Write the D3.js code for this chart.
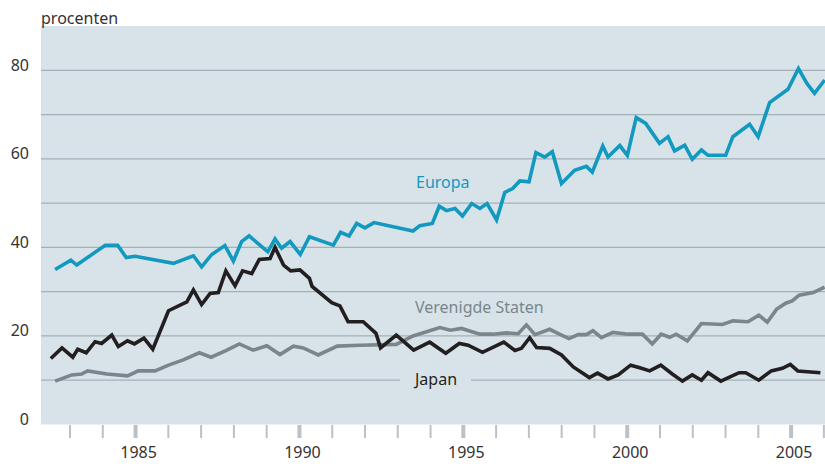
<!DOCTYPE html>
<html>
<head>
<meta charset="utf-8">
<script src="https://cdn.jsdelivr.net/npm/d3@7"></script>
<style>
  body { margin: 0; background: #fff; }
  text { font-family: "Noto Sans", sans-serif; }
</style>
</head>
<body>
<script>
var europa = [
  [1982.56, 35.0], [1983.04, 37.1], [1983.22, 36.0], [1984.09, 40.5], [1984.47, 40.5],
  [1984.73, 37.7], [1985.0, 38.0], [1986.17, 36.4], [1986.78, 38.1], [1987.03, 35.6],
  [1987.34, 38.4], [1987.74, 40.4], [1988.0, 36.9], [1988.25, 41.3], [1988.48, 42.6],
  [1989.05, 39.0], [1989.27, 41.9], [1989.47, 39.8], [1989.73, 41.3], [1990.04, 38.4],
  [1990.32, 42.4], [1991.05, 40.5], [1991.27, 43.4], [1991.53, 42.6], [1991.76, 45.4],
  [1992.01, 44.4], [1992.29, 45.6], [1993.48, 43.7], [1993.69, 44.9], [1994.07, 45.4],
  [1994.28, 49.3], [1994.5, 48.3], [1994.76, 48.8], [1994.99, 47.1], [1995.27, 49.9],
  [1995.52, 48.8], [1995.74, 49.9], [1996.03, 46.2], [1996.28, 52.4], [1996.52, 53.3],
  [1996.74, 55.0], [1997.02, 54.8], [1997.23, 61.4], [1997.5, 60.4], [1997.73, 61.6],
  [1998.01, 54.4], [1998.41, 57.4], [1998.77, 58.3], [1998.95, 57.0], [1999.27, 62.9],
  [1999.43, 60.4], [1999.79, 63.0], [2000.02, 60.8], [2000.29, 69.3], [2000.58, 68.0],
  [2001.0, 63.5], [2001.26, 65.0], [2001.46, 61.8], [2001.77, 63.1], [2002.0, 59.9],
  [2002.28, 62.0], [2002.48, 60.8], [2003.02, 60.8], [2003.24, 65.0], [2003.75, 67.8],
  [2004.01, 65.0], [2004.36, 72.7], [2004.92, 75.7], [2005.24, 80.4], [2005.5, 77.0],
  [2005.73, 74.8], [2006.04, 77.8]
];

var verenigdeStaten = [
  [1982.56, 9.8], [1983.07, 11.2], [1983.37, 11.4], [1983.55, 12.1], [1984.14, 11.4],
  [1984.77, 11.0], [1985.1, 12.1], [1985.61, 12.1], [1986.02, 13.4], [1986.47, 14.6],
  [1986.96, 16.2], [1987.32, 15.2], [1987.77, 16.7], [1988.18, 18.2], [1988.6, 16.8],
  [1989.02, 17.8], [1989.42, 15.8], [1989.83, 17.7], [1990.13, 17.3], [1990.59, 15.7],
  [1991.17, 17.7], [1991.86, 17.9], [1992.97, 18.1], [1993.48, 20.0], [1994.3, 21.9],
  [1994.62, 21.3], [1994.96, 21.7], [1995.52, 20.4], [1995.92, 20.4], [1996.33, 20.7],
  [1996.69, 20.5], [1996.94, 22.5], [1997.2, 20.3], [1997.65, 21.5], [1998.01, 20.2],
  [1998.24, 19.4], [1998.52, 20.3], [1998.77, 20.3], [1998.97, 21.2], [1999.23, 19.6],
  [1999.58, 20.8], [2000.04, 20.4], [2000.48, 20.4], [2000.78, 18.2], [2001.05, 20.4],
  [2001.31, 19.7], [2001.51, 20.4], [2001.85, 18.9], [2002.28, 22.8], [2002.92, 22.6],
  [2003.24, 23.4], [2003.7, 23.2], [2004.03, 24.7], [2004.29, 23.1], [2004.57, 26.0],
  [2004.85, 27.4], [2005.05, 27.9], [2005.26, 29.2], [2005.69, 29.8], [2006.04, 31.0]
];

var japan = [
  [1982.43, 14.9], [1982.77, 17.3], [1983.1, 15.2], [1983.25, 17.0], [1983.51, 16.2],
  [1983.78, 18.7], [1983.98, 18.3], [1984.29, 20.2], [1984.49, 17.6], [1984.77, 18.9],
  [1984.98, 18.2], [1985.27, 19.5], [1985.54, 17.0], [1986.02, 25.7], [1986.58, 27.7],
  [1986.78, 30.4], [1987.03, 27.1], [1987.29, 29.6], [1987.54, 29.8], [1987.77, 34.7],
  [1988.05, 31.3], [1988.28, 34.7], [1988.56, 34.1], [1988.79, 37.3], [1989.12, 37.5],
  [1989.27, 40.0], [1989.53, 36.0], [1989.75, 34.7], [1990.03, 34.9], [1990.32, 33.0],
  [1990.4, 31.2], [1991.0, 27.5], [1991.25, 26.8], [1991.5, 23.2], [1991.96, 23.2],
  [1992.35, 20.6], [1992.49, 17.3], [1992.97, 20.2], [1993.5, 16.8], [1993.99, 18.6],
  [1994.48, 16.1], [1994.89, 18.3], [1995.16, 17.9], [1995.6, 16.3], [1996.25, 18.6],
  [1996.59, 16.7], [1996.79, 17.2], [1997.04, 19.6], [1997.25, 17.4], [1997.65, 17.2],
  [1998.01, 15.7], [1998.37, 13.0], [1998.86, 10.6], [1999.11, 11.6], [1999.43, 10.3],
  [1999.74, 11.2], [2000.12, 13.4], [2000.4, 12.8], [2000.7, 12.1], [2001.04, 13.4],
  [2001.39, 11.4], [2001.7, 9.8], [2002.0, 11.2], [2002.28, 10.0], [2002.48, 11.7],
  [2002.87, 9.8], [2003.43, 11.7], [2003.63, 11.7], [2004.03, 10.0], [2004.41, 12.1],
  [2004.75, 12.7], [2004.99, 13.6], [2005.22, 12.1], [2005.91, 11.7]
];

var yTicks = [0, 20, 40, 60, 80],
    yGrid = [10, 20, 30, 40, 50, 60, 70, 80],
    jaren = d3.range(1983, 2007);

var width = 825,
    height = 464,
    plotLeft = 41,
    plotTop = 26,
    plotBottom = 424.5;

var bg = "#d8e3e9";

var x = d3.scaleLinear().domain([1982.13, 2006.05]).range([plotLeft, width]);
var y = d3.scaleLinear().domain([0, 90]).range([plotBottom, plotTop]);

var svg = d3.select("body").append("svg")
    .attr("width", width)
    .attr("height", height);

svg.append("rect")
    .attr("x", plotLeft).attr("y", plotTop)
    .attr("width", width - plotLeft).attr("height", plotBottom - plotTop)
    .attr("fill", bg);

// gridlijnen
svg.selectAll(".grid")
    .data(yGrid)
    .enter().append("line")
    .attr("class", "grid")
    .attr("x1", plotLeft).attr("x2", width)
    .attr("y1", function (d) { return y(d); })
    .attr("y2", function (d) { return y(d); })
    .attr("stroke", "#a4b0b8")
    .attr("stroke-width", 1.3);

// y labels
svg.selectAll(".ylab")
    .data(yTicks)
    .enter().append("text")
    .attr("class", "ylab")
    .attr("x", 29)
    .attr("y", function (d) { return y(d) + 0.5; })
    .attr("text-anchor", "end")
    .attr("font-size", 16)
    .attr("fill", "#333")
    .text(function (d) { return d; });

svg.append("text")
    .attr("x", plotLeft)
    .attr("y", 24)
    .attr("font-size", 16)
    .attr("fill", "#333")
    .text("procenten");

// x-as
var xAxis = d3.axisBottom(x)
    .tickValues(jaren)
    .tickSize(13)
    .tickPadding(9)
    .tickFormat(function (d) { return d % 5 === 0 ? d : ""; });

var gx = svg.append("g")
    .attr("transform", "translate(0," + (plotBottom + 0.5) + ")")
    .call(xAxis);

gx.select(".domain").remove();
gx.selectAll(".tick line")
    .attr("stroke", "#bcc1c5")
    .attr("stroke-width", function (d) { return d % 5 === 0 ? 4 : 2; });
gx.selectAll(".tick text")
    .attr("font-size", 16)
    .attr("font-family", "Noto Sans, sans-serif")
    .attr("fill", "#333")
    .attr("dx", 3);

// Japan label met achtergrond (onderbreekt gridlijn)
svg.append("rect")
    .attr("x", 400).attr("y", y(10) - 8)
    .attr("width", 71).attr("height", 16)
    .attr("fill", bg);

var line = d3.line()
    .x(function (d) { return x(d[0]); })
    .y(function (d) { return y(d[1]); });

var series = [
  { data: verenigdeStaten, color: "#7b868c" },
  { data: japan, color: "#231f20" },
  { data: europa, color: "#1299c0" }
];

svg.selectAll(".serie")
    .data(series)
    .enter().append("path")
    .attr("class", "serie")
    .attr("d", function (d) { return line(d.data); })
    .attr("fill", "none")
    .attr("stroke", function (d) { return d.color; })
    .attr("stroke-width", 3.6)
    .attr("stroke-linejoin", "miter")
    .attr("stroke-miterlimit", 3);

// series labels
svg.append("text")
    .attr("x", 416).attr("y", 188)
    .attr("font-size", 16)
    .attr("fill", "#1299c0")
    .text("Europa");

svg.append("text")
    .attr("x", 415).attr("y", 313)
    .attr("font-size", 16)
    .attr("fill", "#7b868c")
    .text("Verenigde Staten");

svg.append("text")
    .attr("x", 415).attr("y", 385)
    .attr("font-size", 16)
    .attr("fill", "#231f20")
    .text("Japan");
</script>
</body>
</html>
